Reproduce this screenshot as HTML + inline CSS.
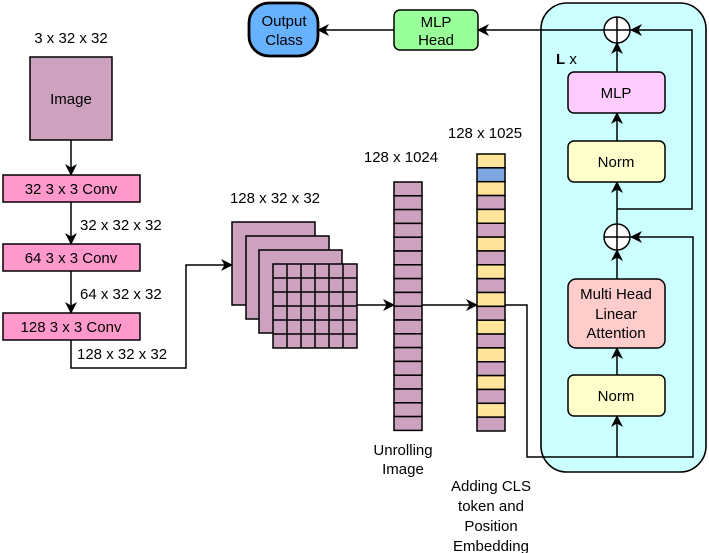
<!DOCTYPE html>
<html><head><meta charset="utf-8"><style>
html,body{margin:0;padding:0;background:#fff}
svg{display:block}
text{font-family:"Liberation Sans",Arial,sans-serif;font-size:15px;fill:#000}
</style></head><body>
<svg width="709" height="553" viewBox="0 0 709 553" xmlns="http://www.w3.org/2000/svg">
<defs>
<marker id="a" markerWidth="12" markerHeight="12" refX="11" refY="6" orient="auto" markerUnits="userSpaceOnUse">
<path d="M0,0 L12,6 L0,12 L3.5,6 Z" fill="#000"/>
</marker>
</defs>
<rect x="541" y="3" width="165" height="469" rx="26" fill="#ccffff" stroke="#000" stroke-width="1.6"/>
<text x="71" y="43" text-anchor="middle">3 x 32 x 32</text>
<rect x="30" y="57" width="82" height="83" fill="#cda2be" stroke="#000" stroke-width="1.5"/>
<text x="71" y="104" text-anchor="middle">Image</text>
<line x1="71" y1="140" x2="71" y2="175" stroke="#000" stroke-width="1.5" marker-end="url(#a)"/>
<rect x="3" y="175" width="137" height="27" fill="#ff99cc" stroke="#000" stroke-width="1.5"/>
<text x="71" y="194" text-anchor="middle">32 3 x 3 Conv</text>
<line x1="71" y1="202" x2="71" y2="244" stroke="#000" stroke-width="1.5" marker-end="url(#a)"/>
<text x="80" y="230">32 x 32 x 32</text>
<rect x="3" y="244" width="137" height="27" fill="#ff99cc" stroke="#000" stroke-width="1.5"/>
<text x="71" y="263" text-anchor="middle">64 3 x 3 Conv</text>
<line x1="71" y1="271" x2="71" y2="313" stroke="#000" stroke-width="1.5" marker-end="url(#a)"/>
<text x="80" y="299">64 x 32 x 32</text>
<rect x="3" y="313" width="137" height="27" fill="#ff99cc" stroke="#000" stroke-width="1.5"/>
<text x="71" y="332" text-anchor="middle">128 3 x 3 Conv</text>
<text x="77" y="359">128 x 32 x 32</text>
<polyline points="71,340 71,368 186,368 186,265 232,265" fill="none" stroke="#000" stroke-width="1.5" marker-end="url(#a)"/>
<text x="275" y="203" text-anchor="middle">128 x 32 x 32</text>
<rect x="232" y="222" width="83" height="83" fill="#cda2be" stroke="#000" stroke-width="1.5"/>
<rect x="246" y="236" width="83" height="83" fill="#cda2be" stroke="#000" stroke-width="1.5"/>
<rect x="259" y="250" width="83" height="83" fill="#cda2be" stroke="#000" stroke-width="1.5"/>
<g stroke="#000" stroke-width="1.5">
<rect x="273" y="264" width="84" height="84" fill="#cda2be"/>
<line x1="287" y1="264" x2="287" y2="348"/><line x1="301" y1="264" x2="301" y2="348"/><line x1="315" y1="264" x2="315" y2="348"/><line x1="329" y1="264" x2="329" y2="348"/><line x1="343" y1="264" x2="343" y2="348"/>
<line x1="273" y1="278" x2="357" y2="278"/><line x1="273" y1="292" x2="357" y2="292"/><line x1="273" y1="306" x2="357" y2="306"/><line x1="273" y1="320" x2="357" y2="320"/><line x1="273" y1="334" x2="357" y2="334"/>
</g>
<line x1="357" y1="305" x2="394" y2="305" stroke="#000" stroke-width="1.5" marker-end="url(#a)"/>
<text x="401" y="162" text-anchor="middle">128 x 1024</text>
<g stroke="#000" stroke-width="1.5" fill="#cda2be">
<rect x="394" y="182.0" width="28" height="13.8"/><rect x="394" y="195.8" width="28" height="13.8"/><rect x="394" y="209.6" width="28" height="13.8"/><rect x="394" y="223.4" width="28" height="13.8"/><rect x="394" y="237.2" width="28" height="13.8"/><rect x="394" y="251.0" width="28" height="13.8"/><rect x="394" y="264.8" width="28" height="13.8"/><rect x="394" y="278.6" width="28" height="13.8"/><rect x="394" y="292.4" width="28" height="13.8"/><rect x="394" y="306.2" width="28" height="13.8"/><rect x="394" y="320.0" width="28" height="13.8"/><rect x="394" y="333.8" width="28" height="13.8"/><rect x="394" y="347.6" width="28" height="13.8"/><rect x="394" y="361.4" width="28" height="13.8"/><rect x="394" y="375.2" width="28" height="13.8"/><rect x="394" y="389.0" width="28" height="13.8"/><rect x="394" y="402.8" width="28" height="13.8"/><rect x="394" y="416.6" width="28" height="13.8"/>
</g>
<text x="403" y="455" text-anchor="middle">Unrolling</text>
<text x="403" y="474" text-anchor="middle">Image</text>
<line x1="422" y1="305" x2="477" y2="305" stroke="#000" stroke-width="1.5" marker-end="url(#a)"/>
<text x="485" y="138" text-anchor="middle">128 x 1025</text>
<g stroke="#000" stroke-width="1.5">
<rect x="477" y="154.0" width="28" height="13.85" fill="#ffe599"/>
<rect x="477" y="167.85" width="28" height="13.85" fill="#7ea6e0"/>
<rect x="477" y="181.7" width="28" height="13.85" fill="#ffe599"/>
<rect x="477" y="195.55" width="28" height="13.85" fill="#cda2be"/>
<rect x="477" y="209.4" width="28" height="13.85" fill="#ffe599"/>
<rect x="477" y="223.25" width="28" height="13.85" fill="#cda2be"/>
<rect x="477" y="237.1" width="28" height="13.85" fill="#ffe599"/>
<rect x="477" y="250.95" width="28" height="13.85" fill="#cda2be"/>
<rect x="477" y="264.8" width="28" height="13.85" fill="#ffe599"/>
<rect x="477" y="278.65" width="28" height="13.85" fill="#cda2be"/>
<rect x="477" y="292.5" width="28" height="13.85" fill="#ffe599"/>
<rect x="477" y="306.35" width="28" height="13.85" fill="#cda2be"/>
<rect x="477" y="320.2" width="28" height="13.85" fill="#ffe599"/>
<rect x="477" y="334.05" width="28" height="13.85" fill="#cda2be"/>
<rect x="477" y="347.9" width="28" height="13.85" fill="#ffe599"/>
<rect x="477" y="361.75" width="28" height="13.85" fill="#cda2be"/>
<rect x="477" y="375.6" width="28" height="13.85" fill="#ffe599"/>
<rect x="477" y="389.45" width="28" height="13.85" fill="#cda2be"/>
<rect x="477" y="403.3" width="28" height="13.85" fill="#ffe599"/>
<rect x="477" y="417.15" width="28" height="13.85" fill="#cda2be"/>
</g>
<text x="491" y="491" text-anchor="middle">Adding CLS</text>
<text x="491" y="511" text-anchor="middle">token and</text>
<text x="491" y="531" text-anchor="middle">Position</text>
<text x="491" y="551" text-anchor="middle">Embedding</text>
<polyline points="505,305 527,305 527,457 693,457 693,237 631,237" fill="none" stroke="#000" stroke-width="1.5" marker-end="url(#a)"/>
<line x1="617" y1="457" x2="617" y2="416" stroke="#000" stroke-width="1.5" marker-end="url(#a)"/>
<rect x="568" y="375" width="97" height="41" rx="6" fill="#ffffcc" stroke="#000" stroke-width="1.5"/>
<text x="616" y="401" text-anchor="middle">Norm</text>
<line x1="617" y1="375" x2="617" y2="348" stroke="#000" stroke-width="1.5" marker-end="url(#a)"/>
<rect x="568" y="279" width="97" height="69" rx="8" fill="#ffcccc" stroke="#000" stroke-width="1.5"/>
<text x="616" y="299" text-anchor="middle">Multi Head</text>
<text x="616" y="319" text-anchor="middle">Linear</text>
<text x="616" y="338" text-anchor="middle">Attention</text>
<line x1="617" y1="279" x2="617" y2="250" stroke="#000" stroke-width="1.5" marker-end="url(#a)"/>
<circle cx="617" cy="237" r="13" fill="#fff" stroke="#000" stroke-width="1.5"/>
<line x1="604" y1="237" x2="630" y2="237" stroke="#000" stroke-width="1.5"/>
<line x1="617" y1="224" x2="617" y2="250" stroke="#000" stroke-width="1.5"/>
<line x1="617" y1="224" x2="617" y2="182" stroke="#000" stroke-width="1.5" marker-end="url(#a)"/>
<polyline points="617,209 692,209 692,30 631,30" fill="none" stroke="#000" stroke-width="1.5" marker-end="url(#a)"/>
<rect x="568" y="141" width="97" height="41" rx="6" fill="#ffffcc" stroke="#000" stroke-width="1.5"/>
<text x="616" y="167" text-anchor="middle">Norm</text>
<line x1="617" y1="141" x2="617" y2="113" stroke="#000" stroke-width="1.5" marker-end="url(#a)"/>
<rect x="568" y="72" width="97" height="41" rx="6" fill="#ffccff" stroke="#000" stroke-width="1.5"/>
<text x="616" y="98" text-anchor="middle">MLP</text>
<line x1="617" y1="72" x2="617" y2="43" stroke="#000" stroke-width="1.5" marker-end="url(#a)"/>
<circle cx="617" cy="30" r="13" fill="#fff" stroke="#000" stroke-width="1.5"/>
<line x1="604" y1="30" x2="630" y2="30" stroke="#000" stroke-width="1.5"/>
<line x1="617" y1="17" x2="617" y2="43" stroke="#000" stroke-width="1.5"/>
<text x="556" y="64"><tspan font-weight="bold">L</tspan> x</text>
<line x1="604" y1="30" x2="478" y2="30" stroke="#000" stroke-width="1.5" marker-end="url(#a)"/>
<rect x="394" y="10" width="84" height="40" rx="6" fill="#99ff99" stroke="#000" stroke-width="1.5"/>
<text x="436" y="27" text-anchor="middle">MLP</text>
<text x="436" y="45" text-anchor="middle">Head</text>
<line x1="394" y1="30" x2="318" y2="30" stroke="#000" stroke-width="1.5" marker-end="url(#a)"/>
<rect x="249" y="3" width="69" height="53" rx="20" fill="#66b2ff" stroke="#000" stroke-width="2.8"/>
<text x="284" y="26" text-anchor="middle">Output</text>
<text x="284" y="45" text-anchor="middle">Class</text>
</svg>
</body></html>
